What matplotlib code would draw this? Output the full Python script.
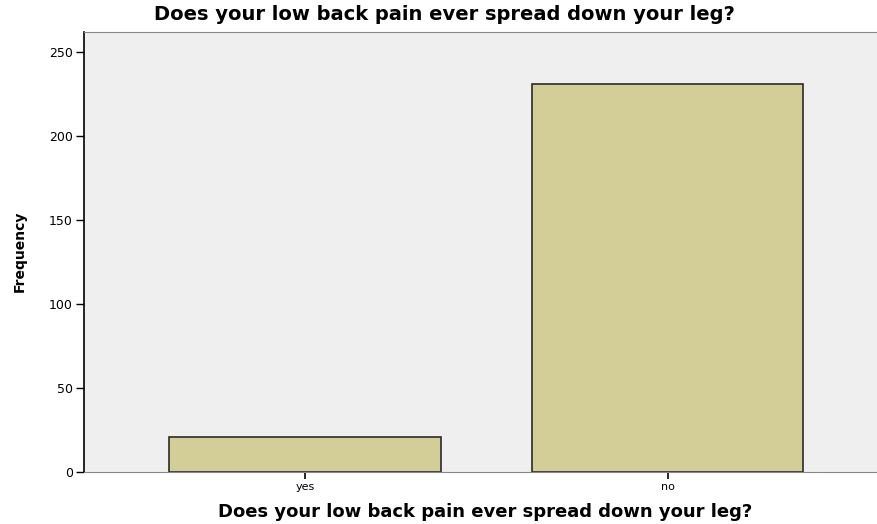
import matplotlib
matplotlib.use('Agg')
import matplotlib.pyplot as plt

# data
categories = ["yes", "no"]
frequency = [21, 231]
y_ticks = [0, 50, 100, 150, 200, 250]

fig = plt.figure(figsize=(8.78, 5.24), dpi=100)
ax = fig.add_axes([0.0957, 0.0992, 0.9043, 0.8398])
ax.set_facecolor('#efefef')

x = list(range(len(categories)))
ax.bar(x, frequency, width=0.747, color='#d3ce98', edgecolor='#2b2b2b', linewidth=1.2, zorder=2)

ax.set_xlim(-0.609, 1.579)
ax.set_ylim(0, 262)
ax.set_xticks(x)
ax.set_xticklabels(categories, fontsize=8)
ax.set_yticks(y_ticks)
ax.tick_params(axis='y', labelsize=9, length=6, width=1, direction='out', pad=2)
ax.tick_params(axis='x', length=5, width=1.2, direction='out', pad=2)

ax.spines['left'].set_color('black')
ax.spines['left'].set_linewidth(1.2)
ax.spines['bottom'].set_color('#888888')
ax.spines['top'].set_color('#888888')
ax.spines['right'].set_visible(False)

fig.text(0.506, 0.973, "Does your low back pain ever spread down your leg?",
         ha='center', va='center', fontsize=14, fontweight='bold')
fig.text(0.553, 0.023, "Does your low back pain ever spread down your leg?",
         ha='center', va='center', fontsize=13, fontweight='bold')
fig.text(0.023, 0.52, "Frequency", rotation=90, ha='center', va='center',
         fontsize=10, fontweight='bold')

fig.savefig("out.png", dpi=100)
